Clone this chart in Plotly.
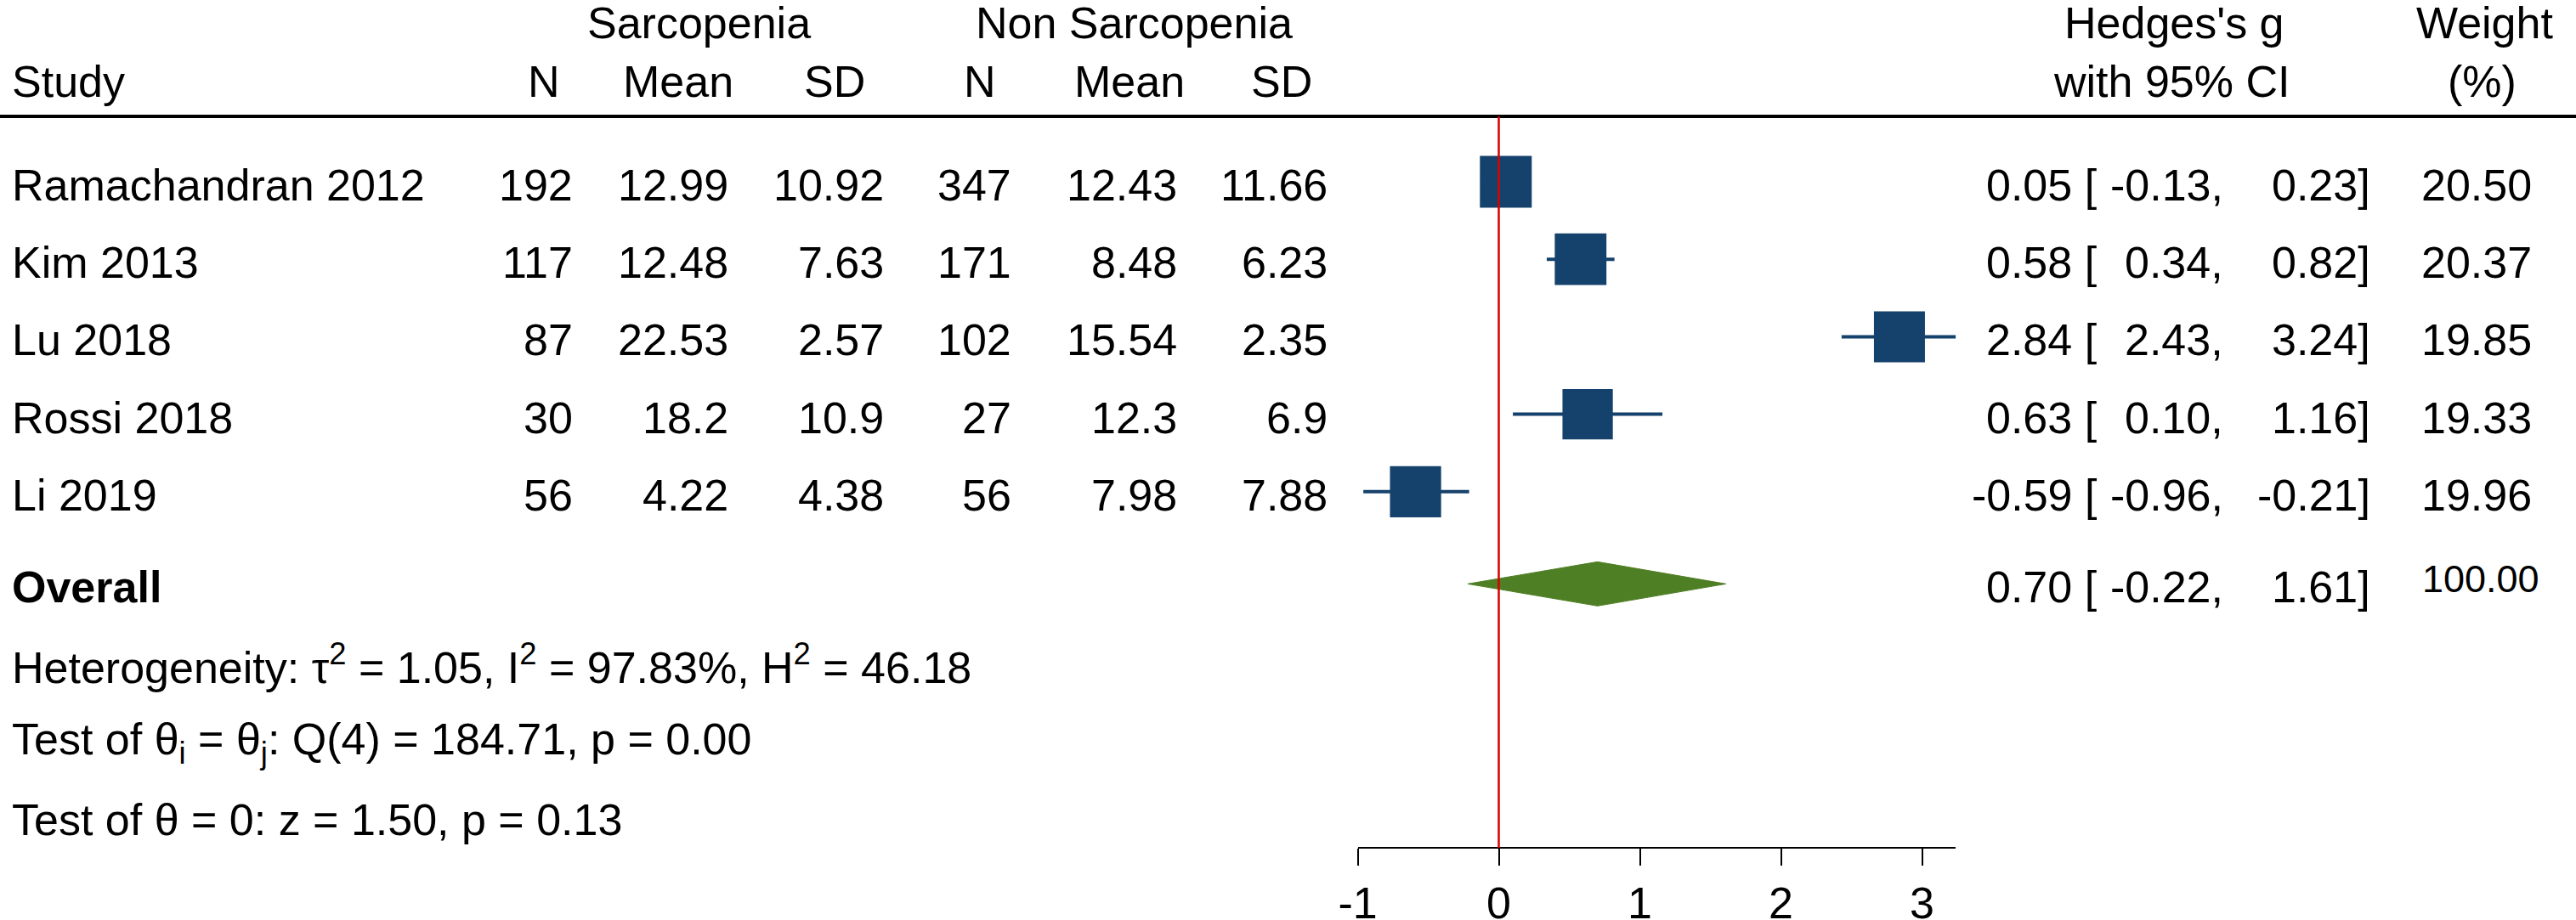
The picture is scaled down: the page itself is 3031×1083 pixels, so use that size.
import math

import plotly.graph_objects as go

W, H = 3031, 1083

# study level data
studies = ["Ramachandran 2012", "Kim 2013", "Lu 2018", "Rossi 2018", "Li 2019"]
sarc_n = [192, 117, 87, 30, 56]
sarc_mean = [12.99, 12.48, 22.53, 18.2, 4.22]
sarc_sd = [10.92, 7.63, 2.57, 10.9, 4.38]
non_n = [347, 171, 102, 27, 56]
non_mean = [12.43, 8.48, 15.54, 12.3, 7.98]
non_sd = [11.66, 6.23, 2.35, 6.9, 7.88]
hedges_g = [0.05, 0.58, 2.84, 0.63, -0.59]
ci_low = [-0.13, 0.34, 2.43, 0.10, -0.96]
ci_high = [0.23, 0.82, 3.24, 1.16, -0.21]
weights = [20.50, 20.37, 19.85, 19.33, 19.96]

# pooled estimate
overall_g = 0.70
overall_low = -0.22
overall_high = 1.61
overall_weight = 100.00

stats_lines = [
    "Heterogeneity: \u03c4<sup>2</sup> = 1.05, I<sup>2</sup> = 97.83%, H<sup>2</sup> = 46.18",
    "Test of \u03b8<sub>i</sub> = \u03b8<sub>j</sub>: Q(4) = 184.71, p = 0.00",
    "Test of \u03b8 = 0: z = 1.50, p = 0.13",
]
x_ticks = [-1, 0, 1, 2, 3]
x_range = [-1, 3.24]
null_effect = 0

FONT = "Liberation Sans, Arial, Helvetica, sans-serif"
FS = 52
NAVY = "#15426c"
GREEN = "#4f7f25"

ROW0, ROW_STEP = 214, 91.2  # pixel centre of first row, row spacing
TXT = 4 / ROW_STEP           # text sits a touch lower than the boxes
overall_row = 5.19
header_line_px = 137
axis_px = 998


def px_x(x):
    return x / W


def px_y(y):
    return 1 - y / H


annotations = []


def cell(text, x, y, anchor="right", yref="y", size=FS):
    annotations.append(dict(
        text=text, x=px_x(x), xref="paper", y=y, yref=yref,
        xanchor=anchor, yanchor="middle", showarrow=False,
        font=dict(family=FONT, size=size, color="black"),
    ))


# headers
cell("Sarcopenia", 822, px_y(27), "center", "paper")
cell("Non Sarcopenia", 1334, px_y(27), "center", "paper")
cell("Hedges's g", 2558, px_y(27), "center", "paper")
cell("Weight", 2923, px_y(27), "center", "paper")
cell("Study", 12, px_y(96), "left", "paper")
for label, xc in [("N", 640), ("Mean", 798), ("SD", 982),
                  ("N", 1153), ("Mean", 1329), ("SD", 1508)]:
    cell(label, xc, px_y(96), "center", "paper")
cell("with 95% CI", 2555, px_y(96), "center", "paper")
cell("(%)", 2920, px_y(96), "center", "paper")

# table body
for i, name in enumerate(studies):
    y = i + TXT
    cell(name, 12, y, "left")
    cell(str(sarc_n[i]), 676, y)
    cell(str(sarc_mean[i]), 859, y)
    cell(str(sarc_sd[i]), 1042, y)
    cell(str(non_n[i]), 1192, y)
    cell(str(non_mean[i]), 1387, y)
    cell(str(non_sd[i]), 1564, y)
    cell(f"{hedges_g[i]:.2f} [", 2470, y)
    cell(f"{ci_low[i]:.2f},", 2618, y)
    cell(f"{ci_high[i]:.2f}]", 2791, y)
    cell(f"{weights[i]:.2f}", 2981, y)

y = overall_row + TXT
cell("<b>Overall</b>", 12, y, "left")
cell(f"{overall_g:.2f} [", 2470, y)
cell(f"{overall_low:.2f},", 2618, y)
cell(f"{overall_high:.2f}]", 2791, y)
cell(f"{overall_weight:.2f}", 2990, overall_row - 6 / ROW_STEP, size=45)

for k, line in enumerate(stats_lines):
    cell(line, 12, px_y(782 + 91.5 * k), "left", "paper")

fig = go.Figure()

# study boxes with CIs
fig.add_trace(go.Scatter(
    x=hedges_g, y=list(range(len(studies))), mode="markers",
    marker=dict(symbol="square", color=NAVY, opacity=1, line=dict(width=0),
                size=[61 * math.sqrt(w / weights[0]) for w in weights]),
    error_x=dict(type="data", symmetric=False,
                 array=[h - g for h, g in zip(ci_high, hedges_g)],
                 arrayminus=[g - l for g, l in zip(hedges_g, ci_low)],
                 thickness=4, width=0, color=NAVY),
    showlegend=False, hoverinfo="skip",
))

# overall diamond
half_h = 26 / ROW_STEP
fig.add_trace(go.Scatter(
    x=[overall_low, overall_g, overall_high, overall_g, overall_low],
    y=[overall_row, overall_row - half_h, overall_row, overall_row + half_h, overall_row],
    mode="lines", fill="toself", fillcolor=GREEN,
    line=dict(color=GREEN, width=1), showlegend=False, hoverinfo="skip",
))

shapes = [
    dict(type="line", xref="paper", yref="paper", x0=0, x1=1,
         y0=px_y(header_line_px), y1=px_y(header_line_px),
         line=dict(color="black", width=4)),
    dict(type="line", xref="x", yref="paper", x0=null_effect, x1=null_effect,
         y0=px_y(axis_px), y1=px_y(header_line_px),
         line=dict(color="#d80000", width=2.5)),
]

fig.update_layout(
    width=W, height=H,
    # no auto-expansion: the tick labels would otherwise push the plot area in
    margin=dict(l=0, r=0, t=0, b=0, pad=0, autoexpand=False),
    paper_bgcolor="white", plot_bgcolor="white",
    font=dict(family=FONT, size=FS, color="black"),
    annotations=annotations, shapes=shapes,
    xaxis=dict(
        domain=[(1763.5 - 166) / W, (1763.5 + 3.24 * 166) / W],
        range=x_range, tickvals=x_ticks, ticktext=[str(t) for t in x_ticks],
        showgrid=False, zeroline=False, showline=True, linecolor="black",
        linewidth=2, ticks="outside", ticklen=20, tickwidth=2, tickcolor="black",
        tickfont=dict(family=FONT, size=FS, color="black"),
        anchor="free", position=px_y(axis_px), fixedrange=True, automargin=False,
    ),
    yaxis=dict(
        domain=[0, 1], range=[(H - ROW0) / ROW_STEP, -ROW0 / ROW_STEP],
        visible=False, fixedrange=True, automargin=False,
    ),
)

# drop the browser's default body margin so the figure sits at the page corner
fig.write_html("out.html", config={"displayModeBar": False},
               post_script="document.body.style.margin = '0';")
